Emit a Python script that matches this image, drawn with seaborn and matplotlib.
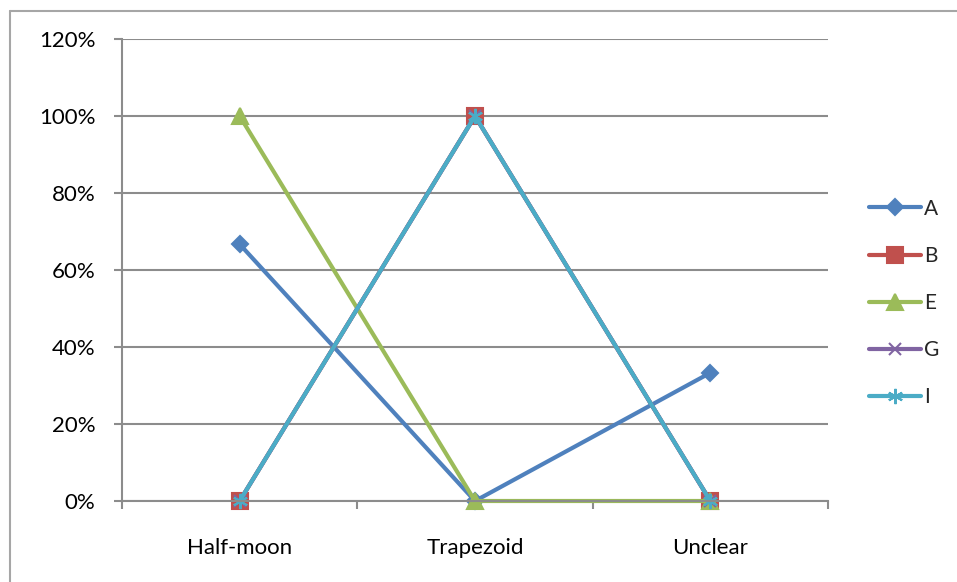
import matplotlib
matplotlib.use("Agg")
import matplotlib.pyplot as plt
import matplotlib.ticker as mticker
from matplotlib.lines import Line2D
import pandas as pd
import seaborn as sns

categories = ["Half-moon", "Trapezoid", "Unclear"]
series_names = ["A", "B", "E", "G", "I"]
a_vals = [0.667, 0.0, 0.333]
b_vals = [0.0, 1.0, 0.0]
e_vals = [1.0, 0.0, 0.0]
g_vals = [0.0, 1.0, 0.0]
i_vals = [0.0, 1.0, 0.0]

colors = {"A": "#4F81BD", "B": "#C0504D", "E": "#9BBB59", "G": "#8064A2", "I": "#4BACC6"}
markers = {"A": "D", "B": "s", "E": "^", "G": "x", "I": (6, 2, 0)}
msizes = {"A": 8, "B": 11, "E": 11, "G": 9, "I": 11}

rows = []
for name, vals in zip(series_names, [a_vals, b_vals, e_vals, g_vals, i_vals]):
    for cat, v in zip(categories, vals):
        rows.append({"category": cat, "series": name, "value": v})
df = pd.DataFrame(rows)

sns.set_theme(style="white")
plt.rcParams["font.family"] = ["Lato", "DejaVu Sans"]

fig = plt.figure(figsize=(9.57, 5.82), dpi=100)
ax = fig.add_axes([122 / 957, 1 - 501 / 582, (828 - 122) / 957, (501 - 39) / 582])

for name in series_names:
    sub = df[df["series"] == name]
    sns.lineplot(
        data=sub, x="category", y="value", ax=ax, color=colors[name],
        marker=markers[name], markersize=msizes[name], linewidth=3,
        markeredgecolor=colors[name], markeredgewidth=1.5, legend=False,
        sort=False,
    )
for ln in ax.lines:
    ln.set_clip_on(False)

ax.set_xlim(-0.5, 2.5)
ax.set_ylim(0, 1.2)
ax.yaxis.set_major_locator(mticker.MultipleLocator(0.2))
ax.yaxis.set_major_formatter(mticker.PercentFormatter(1.0, decimals=0))
ax.set_xticks([0, 1, 2])
ax.set_xticklabels(categories)
ax.set_xticks([-0.5, 0.5, 1.5, 2.5], minor=True)
ax.set_xlabel("")
ax.set_ylabel("")

ax.grid(axis="y", color="#8C8C8C", linewidth=1.5)
ax.set_axisbelow(True)
for s in ["top", "right"]:
    ax.spines[s].set_visible(False)
for s in ["left", "bottom"]:
    ax.spines[s].set_color("#8C8C8C")
    ax.spines[s].set_linewidth(1.5)

ax.tick_params(axis="y", which="major", left=True, length=6, width=1.5, color="#8C8C8C",
               pad=13, labelsize=16, labelcolor="black")
ax.tick_params(axis="x", which="major", bottom=False, pad=21, labelsize=16, labelcolor="black")
ax.tick_params(axis="x", which="minor", bottom=True, length=6, width=1.5, color="#8C8C8C")

handles = [
    Line2D([], [], color=colors[n], marker=markers[n], markersize=msizes[n], linewidth=3,
           markeredgecolor=colors[n], markeredgewidth=1.5)
    for n in series_names
]
fig.legend(handles, series_names, loc="upper left", bbox_to_anchor=(850 / 957, 1 - 180 / 582),
           frameon=False, handlelength=2.5, handletextpad=0.15, labelspacing=1.3, fontsize=15)

# outer chart border (top and left only visible)
fig.add_artist(Line2D([9.5 / 957, 1], [1 - 10.5 / 582, 1 - 10.5 / 582], color="#A6A6A6", linewidth=1.5,
                      transform=fig.transFigure))
fig.add_artist(Line2D([9.5 / 957, 9.5 / 957], [0, 1 - 10.5 / 582], color="#A6A6A6", linewidth=1.5,
                      transform=fig.transFigure))

fig.savefig("out.png", dpi=100)
